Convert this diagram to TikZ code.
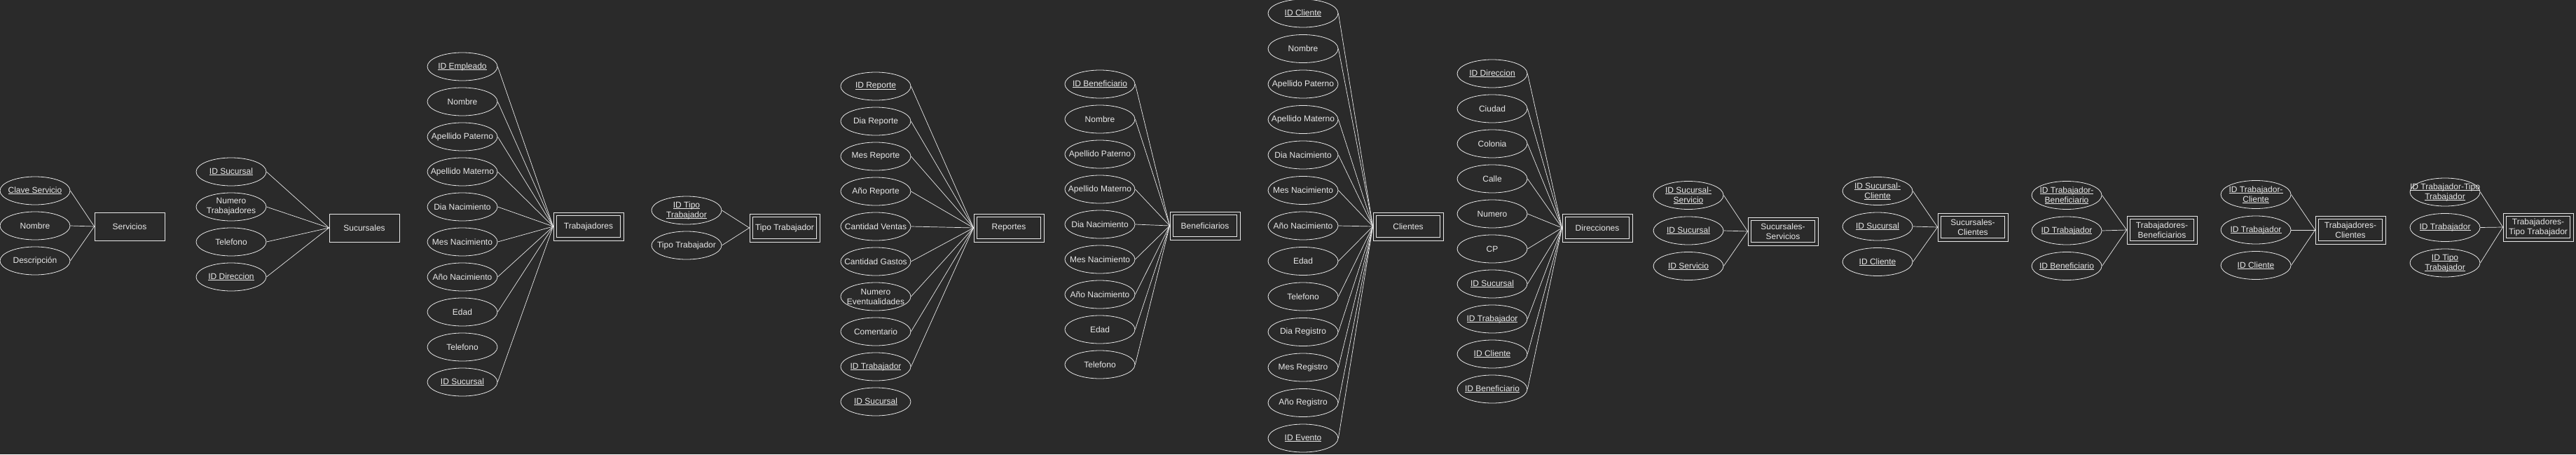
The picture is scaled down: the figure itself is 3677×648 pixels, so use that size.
\documentclass[tikz,border=0pt]{standalone}
\usepackage{fontspec}
\setmainfont{Liberation Sans}
\usetikzlibrary{shapes.geometric}
\definecolor{fondo}{HTML}{2A2A2A}
\definecolor{trazo}{HTML}{E8E8E8}
\newcommand{\llave}[1]{\setbox0=\hbox{#1}\rlap{\rule[-1.6pt]{\wd0}{0.8pt}}\box0}
\begin{document}
\begin{tikzpicture}[x=1pt, y=-1pt,
		texto/.style={text=trazo, font=\fontsize{12}{14}\selectfont, align=center, inner sep=0pt},
		atributo/.style={ellipse, draw=trazo, line width=0.8pt, minimum width=100pt, minimum height=40pt, inner sep=0pt, label={[texto]center:#1}},
		entidad/.style={rectangle, draw=trazo, line width=0.8pt, minimum width=100pt, minimum height=40pt, inner sep=0pt, text=trazo, font=\fontsize{12}{14}\selectfont, align=center},
		debil/.style={entidad, append after command={\pgfextra{\draw[trazo, line width=0.8pt] ([xshift=5pt,yshift=-5pt]\tikzlastnode.north west) rectangle ([xshift=-5pt,yshift=5pt]\tikzlastnode.south east);}}},
		enlace/.style={draw=trazo, line width=0.7pt}]
		\useasboundingbox[fill=fondo] (0,0) rectangle (3677,648);

		\node[entidad] (ser) at (185,323) {Servicios};
		\foreach \t [count=\i] in {{\llave{Clave Servicio}}, Nombre, Descripción}
			\node[atributo=\t] (ser\i) at (50,222+50*\i) {};
		\foreach \i in {1,...,3} \draw[enlace] (ser\i.east) -- (ser.west);

		\node[entidad] (suc) at (520,325) {Sucursales};
		\foreach \t [count=\i] in {{\llave{ID Sucursal}}, {Numero\\Trabajadores}, Telefono, {\llave{ID Direccion}}}
			\node[atributo=\t] (suc\i) at (330,195+50*\i) {};
		\foreach \i in {1,...,4} \draw[enlace] (suc\i.east) -- (suc.west);

		\node[debil] (tra) at (840,323) {Trabajadores};
		\foreach \t [count=\i] in {{\llave{ID Empleado}}, Nombre, Apellido Paterno, Apellido Materno, Dia Nacimiento, Mes Nacimiento, Año Nacimiento, Edad, Telefono, {\llave{ID Sucursal}}}
			\node[atributo=\t] (tra\i) at (660,45+50*\i) {};
		\foreach \i in {1,...,8,10} \draw[enlace] (tra\i.east) -- (tra.west);

		\node[debil] (tip) at (1120,325) {Tipo Trabajador};
		\foreach \t [count=\i] in {{\llave{ID Tipo}\\\llave{Trabajador}}, Tipo Trabajador}
			\node[atributo=\t] (tip\i) at (980,250+50*\i) {};
		\foreach \i in {1,2} \draw[enlace] (tip\i.east) -- (tip.west);

		\node[debil] (rep) at (1440,325) {Reportes};
		\foreach \t [count=\i] in {{\llave{ID Reporte}}, Dia Reporte, Mes Reporte, Año Reporte, Cantidad Ventas, Cantidad Gastos, {Numero\\Eventualidades}, Comentario, {\llave{ID Trabajador}}, {\llave{ID Sucursal}}}
			\node[atributo=\t] (rep\i) at (1250,73+50*\i) {};
		\foreach \i in {1,...,9} \draw[enlace] (rep\i.east) -- (rep.west);

		\node[debil] (ben) at (1720,322) {Beneficiarios};
		\foreach \t [count=\i] in {{\llave{ID Beneficiario}}, Nombre, Apellido Paterno, Apellido Materno, Dia Nacimiento, Mes Nacimiento, Año Nacimiento, Edad, Telefono}
			\node[atributo=\t] (ben\i) at (1570,70+50*\i) {};
		\foreach \i in {1,2,4,5,...,9} \draw[enlace] (ben\i.east) -- (ben.west);

		\node[debil] (cli) at (2010,323) {Clientes};
		\foreach \t [count=\i] in {{\llave{ID Cliente}}, Nombre, Apellido Paterno, Apellido Materno, Dia Nacimiento, Mes Nacimiento, Año Nacimiento, Edad, Telefono, Dia Registro, Mes Registro, Año Registro, {\llave{ID Evento}}}
			\node[atributo=\t] (cli\i) at (1860,-31.5+50.5*\i) {};
		\foreach \i in {1,2,4,5,...,13} \draw[enlace] (cli\i.east) -- (cli.west);

		\node[debil] (dir) at (2280,325) {Direcciones};
		\foreach \t [count=\i] in {{\llave{ID Direccion}}, Ciudad, Colonia, Calle, Numero, CP, {\llave{ID Sucursal}}, {\llave{ID Trabajador}}, {\llave{ID Cliente}}, {\llave{ID Beneficiario}}}
			\node[atributo=\t] (dir\i) at (2130,55+50*\i) {};
		\foreach \i in {1,...,10} \draw[enlace] (dir\i.east) -- (dir.west);

		\node[debil] (ss) at (2545,330) {Sucursales-\\Servicios};
		\foreach \t [count=\i] in {{\llave{ID Sucursal-}\\\llave{Servicio}}, {\llave{ID Sucursal}}, {\llave{ID Servicio}}}
			\node[atributo=\t] (ss\i) at (2410,228+50.5*\i) {};
		\foreach \i in {1,2,3} \draw[enlace] (ss\i.east) -- (ss.west);

		\node[debil] (sc) at (2816,324) {Sucursales-\\Clientes};
		\foreach \t [count=\i] in {{\llave{ID Sucursal-}\\\llave{Cliente}}, {\llave{ID Sucursal}}, {\llave{ID Cliente}}}
			\node[atributo=\t] (sc\i) at (2680,222+50.5*\i) {};
		\foreach \i in {1,2,3} \draw[enlace] (sc\i.east) -- (sc.west);

		\node[debil] (tb) at (3086,328) {Trabajadores-\\Beneficiarios};
		\foreach \t [count=\i] in {{\llave{ID Trabajador-}\\\llave{Beneficiario}}, {\llave{ID Trabajador}}, {\llave{ID Beneficiario}}}
			\node[atributo=\t] (tb\i) at (2950,228+50.5*\i) {};
		\foreach \i in {1,2,3} \draw[enlace] (tb\i.east) -- (tb.west);

		\node[debil] (tc) at (3355,328) {Trabajadores-\\Clientes};
		\foreach \t [count=\i] in {{\llave{ID Trabajador-}\\\llave{Cliente}}, {\llave{ID Trabajador}}, {\llave{ID Cliente}}}
			\node[atributo=\t] (tc\i) at (3220,227+50.5*\i) {};
		\foreach \i in {1,2,3} \draw[enlace] (tc\i.east) -- (tc.west);

		\node[debil] (tt) at (3623,324) {Trabajadores-\\Tipo Trabajador};
		\foreach \t [count=\i] in {{\llave{ID Trabajador-Tipo}\\\llave{Trabajador}}, {\llave{ID Trabajador}}, {\llave{ID Tipo}\\\llave{Trabajador}}}
			\node[atributo=\t] (tt\i) at (3490,223.5+50.5*\i) {};
		\foreach \i in {1,2,3} \draw[enlace] (tt\i.east) -- (tt.west);
	\end{tikzpicture}
\end{document}
